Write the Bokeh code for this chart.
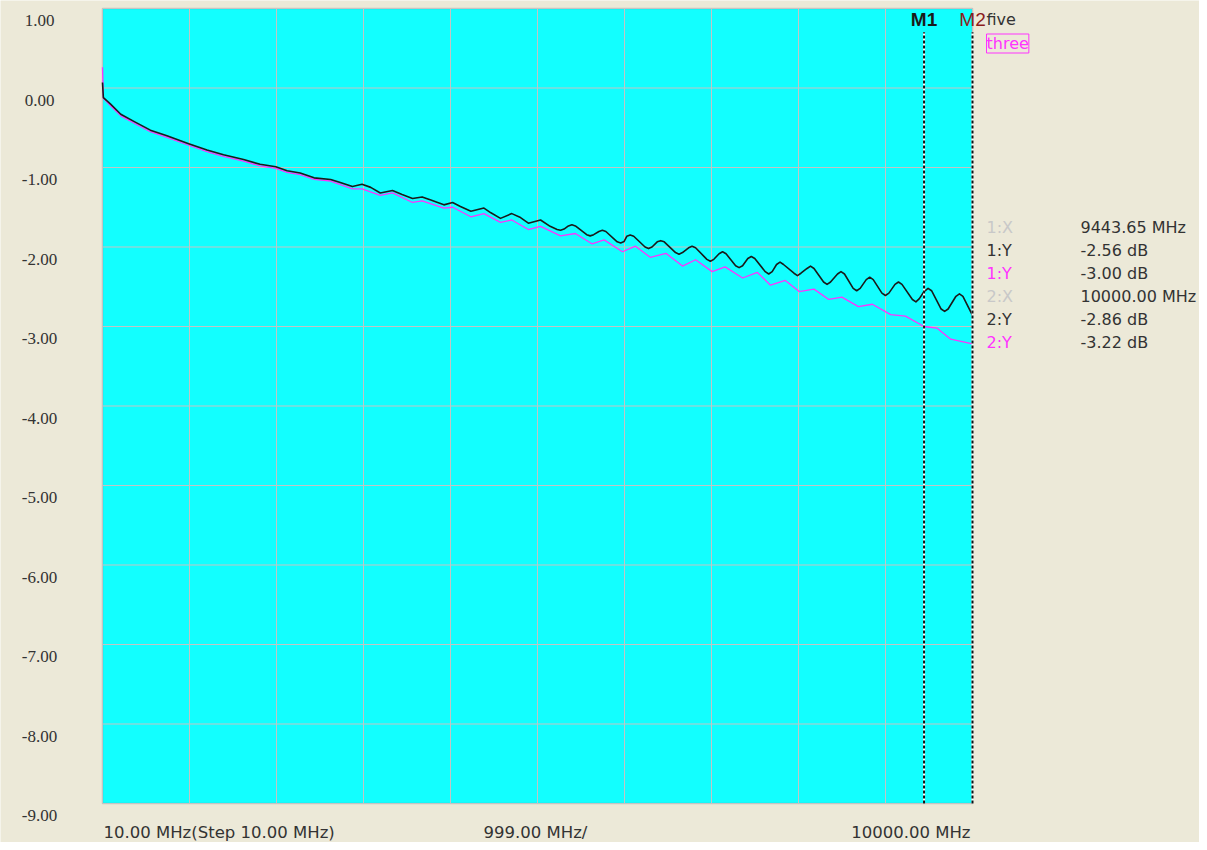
from bokeh.plotting import figure
from bokeh.models import Range1d, Label, LabelSet, ColumnDataSource, BoxAnnotation
from bokeh.embed import file_html
from bokeh.resources import INLINE

# ---------------- data ----------------
freq_five = [10, 20, 100, 220, 370, 560, 750, 1000, 1210, 1400, 1630, 1820, 2000,
             2130, 2280, 2440, 2630, 2740, 2880, 2990, 3090, 3200, 3340, 3450, 3570,
             3680, 3780, 3930, 4030, 4120, 4240, 4390, 4470, 4580, 4710, 4810, 4900,
             5040, 5150,
             5230, 5270, 5310, 5360, 5400, 5440, 5570, 5610, 5650, 5710, 5750, 5790,
             5920, 5960, 6000, 6030, 6070, 6110, 6240, 6280, 6320, 6380, 6420, 6460,
             6590, 6630, 6670, 6740, 6780, 6820, 6950, 6990, 7030, 7090, 7130, 7170,
             7280, 7320, 7360, 7420, 7460, 7500, 7620, 7660, 7700, 7750, 7790, 7830,
             7950, 7990, 8030, 8100, 8140, 8180, 8290, 8330, 8370, 8450, 8490, 8530,
             8630, 8670, 8710, 8780, 8820, 8860, 8960, 9000, 9040, 9110, 9150, 9190,
             9310, 9350, 9390, 9443.65, 9490, 9530, 9640, 9680, 9720, 9810, 9850, 9890,
             10000]
five_db = [0.07, -0.12, -0.20, -0.33, -0.42, -0.53, -0.60, -0.70, -0.78, -0.84, -0.90,
           -0.96, -0.99, -1.04, -1.07, -1.13, -1.15, -1.19, -1.24, -1.21, -1.25, -1.32,
           -1.29, -1.34, -1.39, -1.37, -1.41, -1.47, -1.44, -1.49, -1.55, -1.51, -1.57,
           -1.64, -1.58, -1.63, -1.70, -1.66, -1.74,
           -1.78, -1.79, -1.775, -1.735, -1.72, -1.735, -1.845, -1.86, -1.845, -1.805,
           -1.79, -1.805, -1.935, -1.95, -1.93, -1.865, -1.85, -1.865, -2.00, -2.02,
           -2.00, -1.935, -1.92, -1.935, -2.07, -2.09, -2.07, -2.01, -1.99, -2.01,
           -2.155, -2.18, -2.155, -2.085, -2.06, -2.085, -2.235, -2.26, -2.235, -2.145,
           -2.12, -2.145, -2.31, -2.34, -2.31, -2.22, -2.19, -2.22, -2.33, -2.36, -2.33,
           -2.27, -2.24, -2.27, -2.44, -2.47, -2.44, -2.34, -2.31, -2.34, -2.52, -2.55,
           -2.52, -2.41, -2.38, -2.41, -2.58, -2.61, -2.58, -2.47, -2.44, -2.47, -2.66,
           -2.69, -2.65, -2.56, -2.52, -2.55, -2.78, -2.81, -2.78, -2.62, -2.59, -2.62,
           -2.86]

freq_three = [10, 20, 100, 220, 370, 560, 750, 1000, 1210, 1400, 1630, 1820, 2000,
              2130, 2280, 2440, 2630, 2880, 2990, 3200, 3340, 3570, 3680, 3930, 4030,
              4240, 4390, 4580, 4710, 4900, 5040, 5270, 5440, 5630, 5770, 5980, 6130,
              6300, 6480, 6670, 6820, 7010, 7160, 7360, 7530, 7680, 7850, 8010, 8180,
              8350, 8500, 8690, 8850, 9060, 9230, 9443.65, 9590, 9750, 10000]
three_db = [0.26, -0.13, -0.22, -0.35, -0.44, -0.55, -0.62, -0.72, -0.80, -0.86, -0.92,
            -0.98, -1.01, -1.06, -1.09, -1.15, -1.17, -1.27, -1.27, -1.35, -1.32, -1.44,
            -1.42, -1.51, -1.50, -1.62, -1.58, -1.69, -1.66, -1.78, -1.74, -1.86, -1.83,
            -1.96, -1.91, -2.06, -1.99, -2.13, -2.08, -2.24, -2.16, -2.31, -2.25, -2.39,
            -2.32, -2.48, -2.42, -2.56, -2.53, -2.66, -2.63, -2.75, -2.72, -2.85, -2.87,
            -3.00, -3.02, -3.16, -3.22]

series_names = ["five", "three"]

y_ticks = [1, 0, -1, -2, -3, -4, -5, -6, -7, -8, -9]
y_tick_labels = ["1.00", "0.00", "-1.00", "-2.00", "-3.00", "-4.00", "-5.00",
                 "-6.00", "-7.00", "-8.00", "-9.00"]
x_grid_ticks = [10, 1009, 2008, 3007, 4006, 5005, 6004, 7003, 8002, 9001, 10000]
x_label_pos = [10, 5005, 10000]
x_labels = ["10.00 MHz(Step 10.00 MHz)", "999.00 MHz/", "10000.00 MHz"]

marker_names = ["M1", "M2"]
marker_freq = [9443.65, 10000.00]
marker_five = [-2.56, -2.86]
marker_three = [-3.00, -3.22]

# ---------------- style / layout ----------------
BG = "#ECE9D8"
CYAN = "#12FFFF"
GRID = "#C4C4C4"
TXT = "#333333"
BLACK = "#1A1A1A"
MAGENTA = "#FF33FF"
FONT = "DejaVu Sans"

W, H = 1199, 842
BOX_L, BOX_R, BOX_T, BOX_B = 102, 972, 8, 803   # plot box in canvas pixels

x_lo, x_hi = x_grid_ticks[0], x_grid_ticks[-1]
y_lo, y_hi = y_ticks[-1], y_ticks[0]
xpp = (x_hi - x_lo) / (BOX_R - BOX_L)
ypp = (y_hi - y_lo) / (BOX_B - BOX_T)
xr = Range1d(x_lo - BOX_L * xpp, x_hi + (W - BOX_R) * xpp)
yr = Range1d(y_lo - (H - BOX_B) * ypp, y_hi + BOX_T * ypp)

p = figure(width=W, height=H, output_backend="svg", toolbar_location=None,
           x_range=xr, y_range=yr, x_axis_location=None, y_axis_location=None,
           min_border=0)
p.background_fill_color = BG
p.border_fill_color = BG
p.outline_line_color = None
p.xgrid.visible = False
p.ygrid.visible = False

# plot area
p.add_layout(BoxAnnotation(left=x_lo, right=x_hi, bottom=y_lo, top=y_hi,
                           fill_color=CYAN, fill_alpha=1.0, line_color=None,
                           level="underlay"))

# grid lines
p.segment(x0=x_grid_ticks, y0=[y_lo] * len(x_grid_ticks), x1=x_grid_ticks,
          y1=[y_hi] * len(x_grid_ticks), line_color=GRID, line_width=1)
p.segment(x0=[x_lo] * len(y_ticks), y0=y_ticks, x1=[x_hi] * len(y_ticks), y1=y_ticks,
          line_color=GRID, line_width=1)

# frame border
p.add_layout(BoxAnnotation(left=x_lo, right=x_hi, bottom=y_lo, top=y_hi,
                           fill_color=None, line_color="#808080", line_width=1.5,
                           level="underlay"))

# curves
p.line(freq_three, three_db, line_color=MAGENTA, line_width=1.3, line_join="round")
p.line(freq_five, five_db, line_color=BLACK, line_width=1.6, line_join="round")

# marker lines
marker_top = 0.70
p.segment(x0=marker_freq, y0=[y_lo] * 2, x1=marker_freq, y1=[marker_top] * 2,
          line_color="white", line_width=2)
p.segment(x0=marker_freq, y0=[y_lo] * 2, x1=marker_freq, y1=[marker_top] * 2,
          line_color="#111111", line_width=2, line_dash="3 2")

# y tick labels
ysrc = ColumnDataSource(dict(x=[x_lo] * len(y_ticks), y=y_ticks, text=y_tick_labels))
p.add_layout(LabelSet(x="x", y="y", text="text", source=ysrc, x_offset=-63, y_offset=-12,
                      text_align="center", text_baseline="middle", text_font=FONT,
                      text_font_size="17px", text_color=TXT))

# x labels
for pos, lab, al, off in zip(x_label_pos, x_labels, ["left", "center", "right"], [1, -2, -2]):
    p.add_layout(Label(x=pos, y=y_lo, x_offset=off, y_offset=-29, text=lab, text_align=al,
                       text_baseline="middle", text_font=FONT, text_font_size="16.5px",
                       text_color=TXT))

# marker labels
p.add_layout(Label(x=marker_freq[0], y=y_hi, y_offset=-11, text=marker_names[0],
                   text_align="center", text_baseline="middle", text_font="Liberation Sans",
                   text_font_style="bold", text_font_size="19px", text_color="#1A1A1A"))
p.add_layout(Label(x=marker_freq[1], y=y_hi, y_offset=-11, text=marker_names[1],
                   text_align="center", text_baseline="middle", text_font="Liberation Sans",
                   text_font_size="19px", text_color="#8C1C1C"))

# series names
p.add_layout(Label(x=x_hi, y=y_hi, x_offset=14, y_offset=-11, text=series_names[0],
                   text_align="left", text_baseline="middle", text_font=FONT,
                   text_font_size="16px", text_color=TXT))
p.add_layout(Label(x=x_hi, y=y_hi, x_offset=14, y_offset=-35, text=series_names[1],
                   text_align="left", text_baseline="middle", text_font=FONT,
                   text_font_size="16px", text_color=MAGENTA,
                   border_line_color=MAGENTA, border_line_width=1))

# readout table
rows = []
for i in range(len(marker_freq)):
    n = i + 1
    rows.append((f"{n}:X", "#C8C8C8", f"{marker_freq[i]:.2f} MHz"))
    rows.append((f"{n}:Y", TXT, f"{marker_five[i]:.2f} dB"))
    rows.append((f"{n}:Y", MAGENTA, f"{marker_three[i]:.2f} dB"))
for k, (name, col, val) in enumerate(rows):
    yo = -(219 + 23 * k)
    p.add_layout(Label(x=x_hi, y=y_hi, x_offset=14, y_offset=yo, text=name,
                       text_align="left", text_baseline="middle", text_font=FONT,
                       text_font_size="16px", text_color=col))
    p.add_layout(Label(x=x_hi, y=y_hi, x_offset=108, y_offset=yo, text=val,
                       text_align="left", text_baseline="middle", text_font=FONT,
                       text_font_size="16px", text_color=TXT))

open("out.html", "w").write(file_html(p, INLINE))
